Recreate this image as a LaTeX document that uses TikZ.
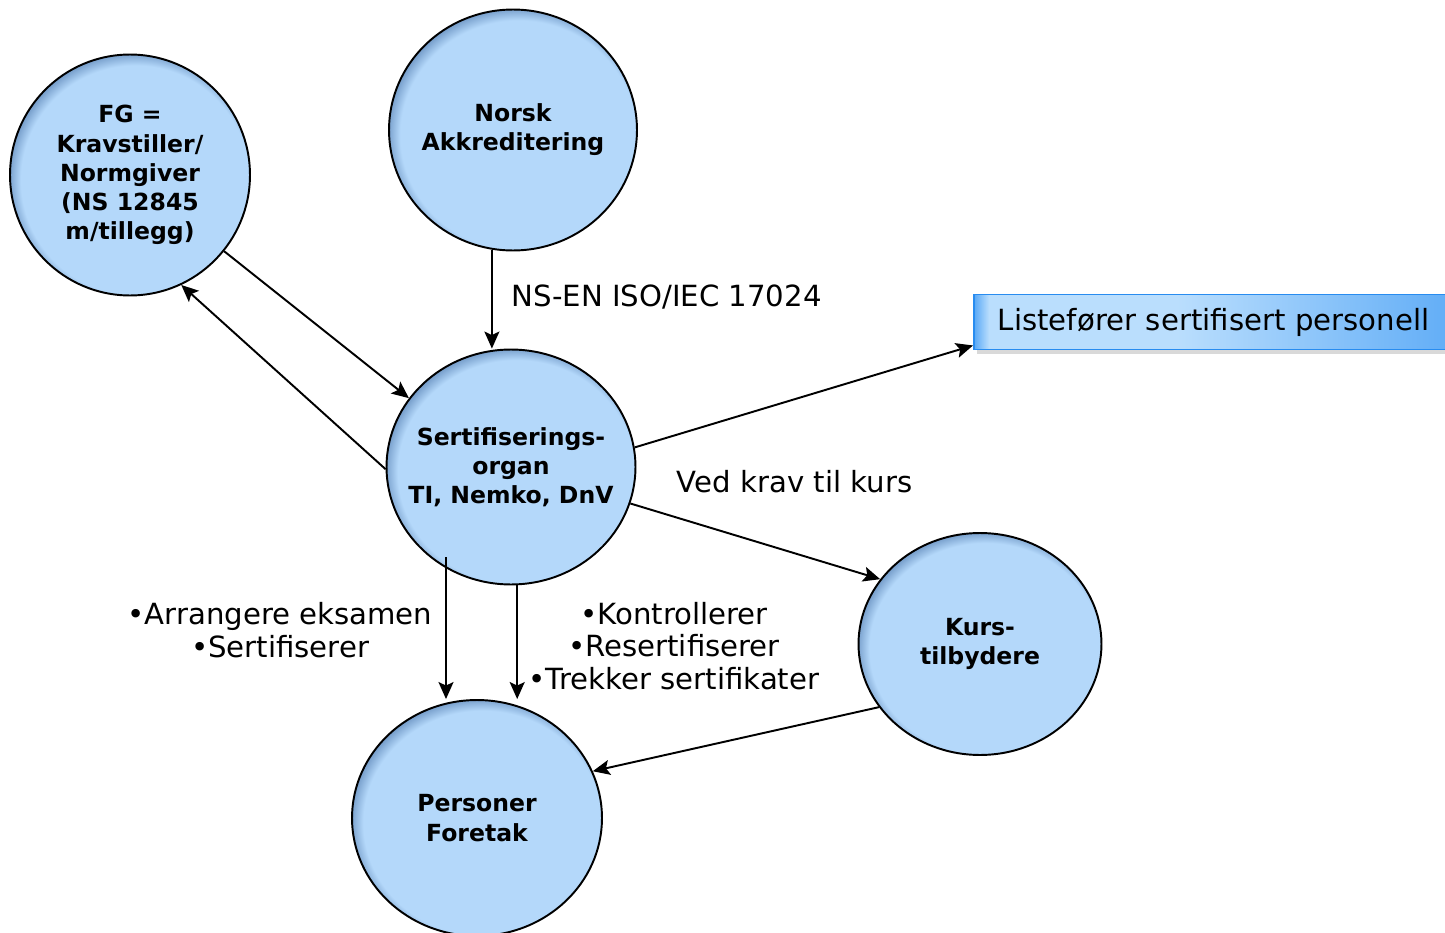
\documentclass[tikz,border=0pt]{standalone}
\usepackage{fontspec}
\setmainfont{DejaVu Sans}
\usepackage{tikz}
\usetikzlibrary{positioning}
\usetikzlibrary{arrows.meta}
\usetikzlibrary{shapes.geometric}
\usetikzlibrary{shadows}

\definecolor{circblue}{RGB}{180,216,250}
\definecolor{circdark}{RGB}{112,152,198}
\definecolor{boxedge}{RGB}{40,140,240}
\definecolor{boxdark}{RGB}{88,168,246}
\definecolor{boxlight}{RGB}{186,222,253}
\pgfdeclarehorizontalshading{listshade}{100bp}{color(0bp)=(boxdark); color(25bp)=(boxdark); color(26.5bp)=(boxlight); color(45bp)=(boxlight); color(75bp)=(boxdark); color(100bp)=(boxdark)}
\pgfdeclareradialshading{partyshade}{\pgfpoint{2bp}{-2bp}}{color(0bp)=(circblue); color(23.8bp)=(circblue); color(26.5bp)=(circdark); color(50bp)=(circdark)}

\begin{document}
\begin{tikzpicture}[
            x = 0.02cm, y = -0.02cm, % one unit per pixel
            arr/.style = {-{Stealth[length=3.4mm, width=3mm, inset=0.7mm]}}, % arrow head style
            line width = 1.1pt
        ]

        \tikzstyle{party}=[
            ellipse,
            draw = black,
            shading = partyshade,
            align = center,
            inner xsep = -0.6cm, % keep the ellipse at its minimum size
            inner ysep = 0pt,
            font = \fontsize{13.4}{16.6}\selectfont\bfseries
        ]
        \tikzstyle{lbl}=[
            align = center,
            inner sep = 0pt,
            font = \fontsize{16.6}{18.7}\selectfont
        ]

        \clip (0,0) rectangle (1445,933);

	% actors
        \node[party, minimum width=4.8cm, minimum height=4.82cm] (FG) at (130,175) {FG =\\Kravstiller/\\Normgiver\\(NS 12845\\m/tillegg)};
        \node[party, minimum width=4.96cm, minimum height=4.82cm] (NA) at (513,130) {Norsk\\Akkreditering};
        \node[party, minimum width=4.98cm, minimum height=4.7cm] (SO) at (511,467) {Sertifiserings-\\organ\\TI, Nemko, DnV};
        \node[party, minimum width=4.86cm, minimum height=4.44cm] (KT) at (980,644) {Kurs-\\tilbydere};
        \node[party, minimum width=5cm, minimum height=4.72cm] (PF) at (477,818) {Personer\\Foretak};

	% register
        \node[draw = boxedge, shading = listshade,
              drop shadow = {shadow xshift=0.6mm, shadow yshift=-1mm, opacity=0.3},
              minimum width = 9.9cm, minimum height = 1.1cm, anchor = west,
              font = \fontsize{16.6}{18.7}\selectfont, text width = 9.2cm, inner xsep = 0.48cm]
              (LS) at (973,322) {Listefører sertifisert personell};

	% connectors
        \coordinate (a1) at (446,557);
        \draw[arr] (FG.-39) -- (SO.146);
        \draw[arr] (SO.181) -- (FG.-65);
        \draw[arr] (NA.-100) -- (NA.-100 |- SO.north);
        \draw[arr] (SO.9) -- ([yshift=0.1cm]LS.south west);
        \draw[arr] (SO.-17) -- (KT.147);
        \draw[arr] (a1) -- (a1 |- PF.north);
        \draw[arr] (SO.-87) -- (SO.-87 |- PF.north);
        \draw[arr] (KT.-148) -- (PF.22);

	% labels
        \node[lbl, anchor = west] (n1) at (511,297) {NS-EN ISO/IEC 17024};
        \node[lbl, anchor = west] (n2) at (676,482) {Ved krav til kurs};
        \node[lbl] (n3) at (280,630) {•Arrangere eksamen\\•Sertifiserer};
        \node[lbl] (n4) at (674,646) {•Kontrollerer\\•Resertifiserer\\•Trekker sertifikater};

\end{tikzpicture}
\end{document}
